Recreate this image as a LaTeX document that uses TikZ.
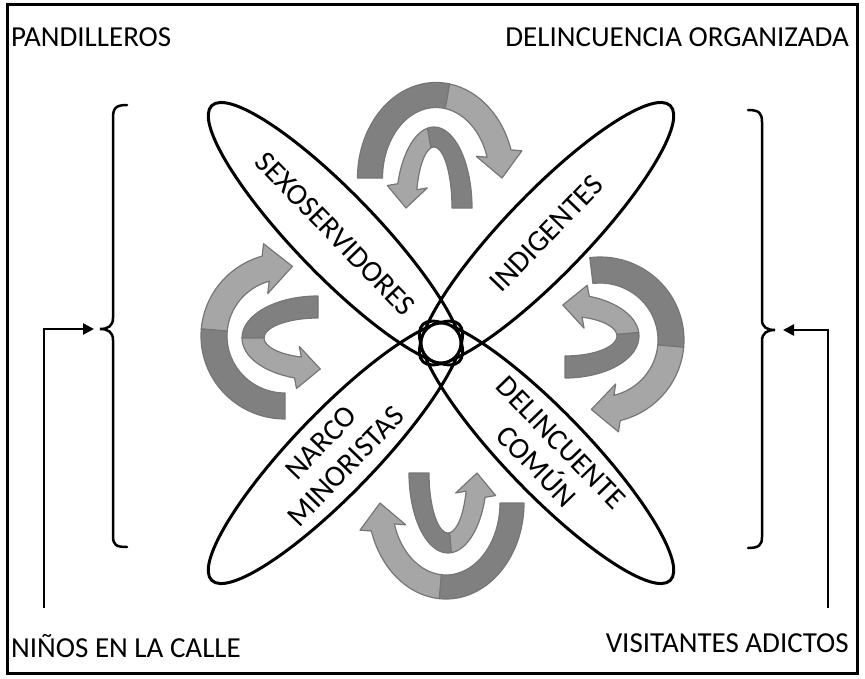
\documentclass[tikz,border=0pt]{standalone}
\usepackage{fontspec}
\setmainfont{Carlito}
\usetikzlibrary{calc,arrows.meta}
\definecolor{rdark}{RGB}{128,128,128}
\definecolor{rlight}{RGB}{166,166,166}
\definecolor{rline}{RGB}{118,118,118}
% #1 cx, #2 cy, #3 rx, #4 ry, #5 start angle, #6 colour change angle, #7 tip angle,
% #8 half band width, #9 half head width
\newcommand\rib[9]{%
\pgfmathsetmacro\rSg{(#7>#6)?1:-1}%
\pgfmathsetmacro\rSpd{sqrt((#3*sin(#7))^2+(#4*cos(#7))^2)}%
\pgfmathsetmacro\rHb{#7-\rSg*1.08*#9/\rSpd*180/pi}%
\pgfmathsetmacro\rXo{#3+#8}\pgfmathsetmacro\rYo{#4+#8}%
\pgfmathsetmacro\rXi{#3-#8}\pgfmathsetmacro\rYi{#4-#8}%
\pgfmathsetmacro\sAx{#1+\rXo*cos(#5)}\pgfmathsetmacro\sAy{#2+\rYo*sin(#5)}%
\pgfmathsetmacro\sBx{#1+\rXi*cos(#6)}\pgfmathsetmacro\sBy{#2+\rYi*sin(#6)}%
\pgfmathsetmacro\sCx{#1+\rXo*cos(#6)}\pgfmathsetmacro\sCy{#2+\rYo*sin(#6)}%
\pgfmathsetmacro\sDx{#1+\rXi*cos(\rHb)}\pgfmathsetmacro\sDy{#2+\rYi*sin(\rHb)}%
\pgfmathsetmacro\sPx{#1+#3*cos(\rHb)}\pgfmathsetmacro\sPy{#2+#4*sin(\rHb)}%
\pgfmathsetmacro\sTx{#1+#3*cos(#7)}\pgfmathsetmacro\sTy{#2+#4*sin(#7)}%
\pgfmathsetmacro\sL{veclen(\sTx-\sPx,\sTy-\sPy)}%
\pgfmathsetmacro\sNx{(\sPy-\sTy)/\sL}\pgfmathsetmacro\sNy{(\sTx-\sPx)/\sL}%
\pgfmathsetmacro\sS{((\sNx*(\sPx-#1)+\sNy*(\sPy-#2))>0)?1:-1}%
\pgfmathsetmacro\sOx{\sPx+\sS*#9*\sNx}\pgfmathsetmacro\sOy{\sPy+\sS*#9*\sNy}%
\pgfmathsetmacro\sIx{\sPx-\sS*#9*\sNx}\pgfmathsetmacro\sIy{\sPy-\sS*#9*\sNy}%
\filldraw[ribdark] (\sAx,\sAy) arc[start angle=#5,end angle=#6,x radius=\rXo,y radius=\rYo]
  -- (\sBx,\sBy) arc[start angle=#6,end angle=#5,x radius=\rXi,y radius=\rYi] -- cycle;
\filldraw[riblight] (\sCx,\sCy) arc[start angle=#6,end angle=\rHb,x radius=\rXo,y radius=\rYo]
  -- (\sOx,\sOy) -- (\sTx,\sTy) -- (\sIx,\sIy)
  -- (\sDx,\sDy) arc[start angle=\rHb,end angle=#6,x radius=\rXi,y radius=\rYi] -- cycle;
}
\begin{document}
\begin{tikzpicture}[x=1pt,y=-1pt,
  ribdark/.style={fill=rdark,draw=rline,line width=1.2pt,line join=round},
  riblight/.style={fill=rlight,draw=rline,line width=1.2pt,line join=round},
  ell/.style={draw=black,line width=3pt},
  lbl/.style={font=\fontsize{29}{34}\selectfont,inner sep=0pt},
  inlbl/.style={font=\fontsize{30}{34}\selectfont,inner sep=0pt,align=center},
  conn/.style={draw=black,line width=2.5pt,-{Triangle[length=11pt,width=11pt]}},
  brace/.style={draw=black,line width=2.5pt,line cap=round}]
\useasboundingbox (0,0) rectangle (865,678);
\draw[line width=3pt] (7.5,4.5) rectangle (857.5,673.5);

% ellipses
\coordinate (C) at (441,343);
\coordinate (ne) at ($(C)+(-46:152)$);
\coordinate (nw) at ($(C)+(-134:152)$);
\coordinate (sw) at ($(C)+(134:152)$);
\coordinate (se) at ($(C)+(46:152)$);
\draw[ell,rotate around={46:(ne)}] (ne) ellipse[x radius=178,y radius=41];
\draw[ell,rotate around={-46:(nw)}] (nw) ellipse[x radius=178,y radius=41];
\draw[ell,rotate around={46:(sw)}] (sw) ellipse[x radius=178,y radius=41];
\draw[ell,rotate around={-46:(se)}] (se) ellipse[x radius=178,y radius=41];
\draw[ell,fill=white] (C) circle[radius=20];

% labels in ellipses
\node[inlbl,rotate=-46] (sexo) at ($(C)+(-134:152)$) {SEXOSERVIDORES};
\node[inlbl,rotate=46] (indi) at ($(C)+(-46:152)$) {INDIGENTES};
\node[inlbl,rotate=46] (narco) at ($(C)+(134:155)$) {NARCO\\MINORISTAS};
\node[inlbl,rotate=-46] (delc) at ($(C)+(46:155)$) {DELINCUENTE\\COMÚN};

% ribbon arrows
\rib{436}{178}{66}{83}{-180}{-80}{0}{12.5}{23}
\rib{434}{208}{28}{71}{0}{-100}{-180}{10}{20}
\rib{285}{336}{71}{70}{90}{185}{276}{13}{25}
\rib{318}{338}{65}{31}{270}{180}{88}{11}{21}
\rib{600}{340}{71}{70}{263}{365}{457}{13}{24}
\rib{565}{336}{63}{31}{90}{-5}{-92}{11}{21.5}
\rib{446}{503}{66}{84}{0}{95}{180}{12}{23}
\rib{448}{473}{29}{70}{180}{85}{0}{10}{20}

% corner labels
\node[lbl,anchor=base west] (pand) at (11,46) {PANDILLEROS};
\node[lbl,anchor=base east] (delorg) at (849,46) {DELINCUENCIA ORGANIZADA};
\node[lbl,anchor=base west] (ninos) at (11,657) {NIÑOS EN LA CALLE};
\node[lbl,anchor=base east] (visit) at (849,652) {VISITANTES ADICTOS};

% braces
\draw[brace] (127,105) .. controls (116,105) and (113,108) .. (113,118) -- (113,318)
  .. controls (113,326) and (108,329) .. (100,329) .. controls (108,329) and (113,332) .. (113,340)
  -- (113,536) .. controls (113,545) and (116,547) .. (127,547);
\draw[brace] (748,110) .. controls (759,110) and (762,113) .. (762,122) -- (762,320)
  .. controls (762,327) and (767,330) .. (775,330) .. controls (767,330) and (762,333) .. (762,341)
  -- (762,537) .. controls (762,545) and (759,548) .. (748,548);

% connectors
\coordinate (lstart) at (44,608);
\coordinate (lend) at (94,329);
\coordinate (rstart) at (828,608);
\coordinate (rend) at (783,330);
\draw[conn] (lstart) |- (lend);
\draw[conn] (rstart) |- (rend);
\end{tikzpicture}
\end{document}
